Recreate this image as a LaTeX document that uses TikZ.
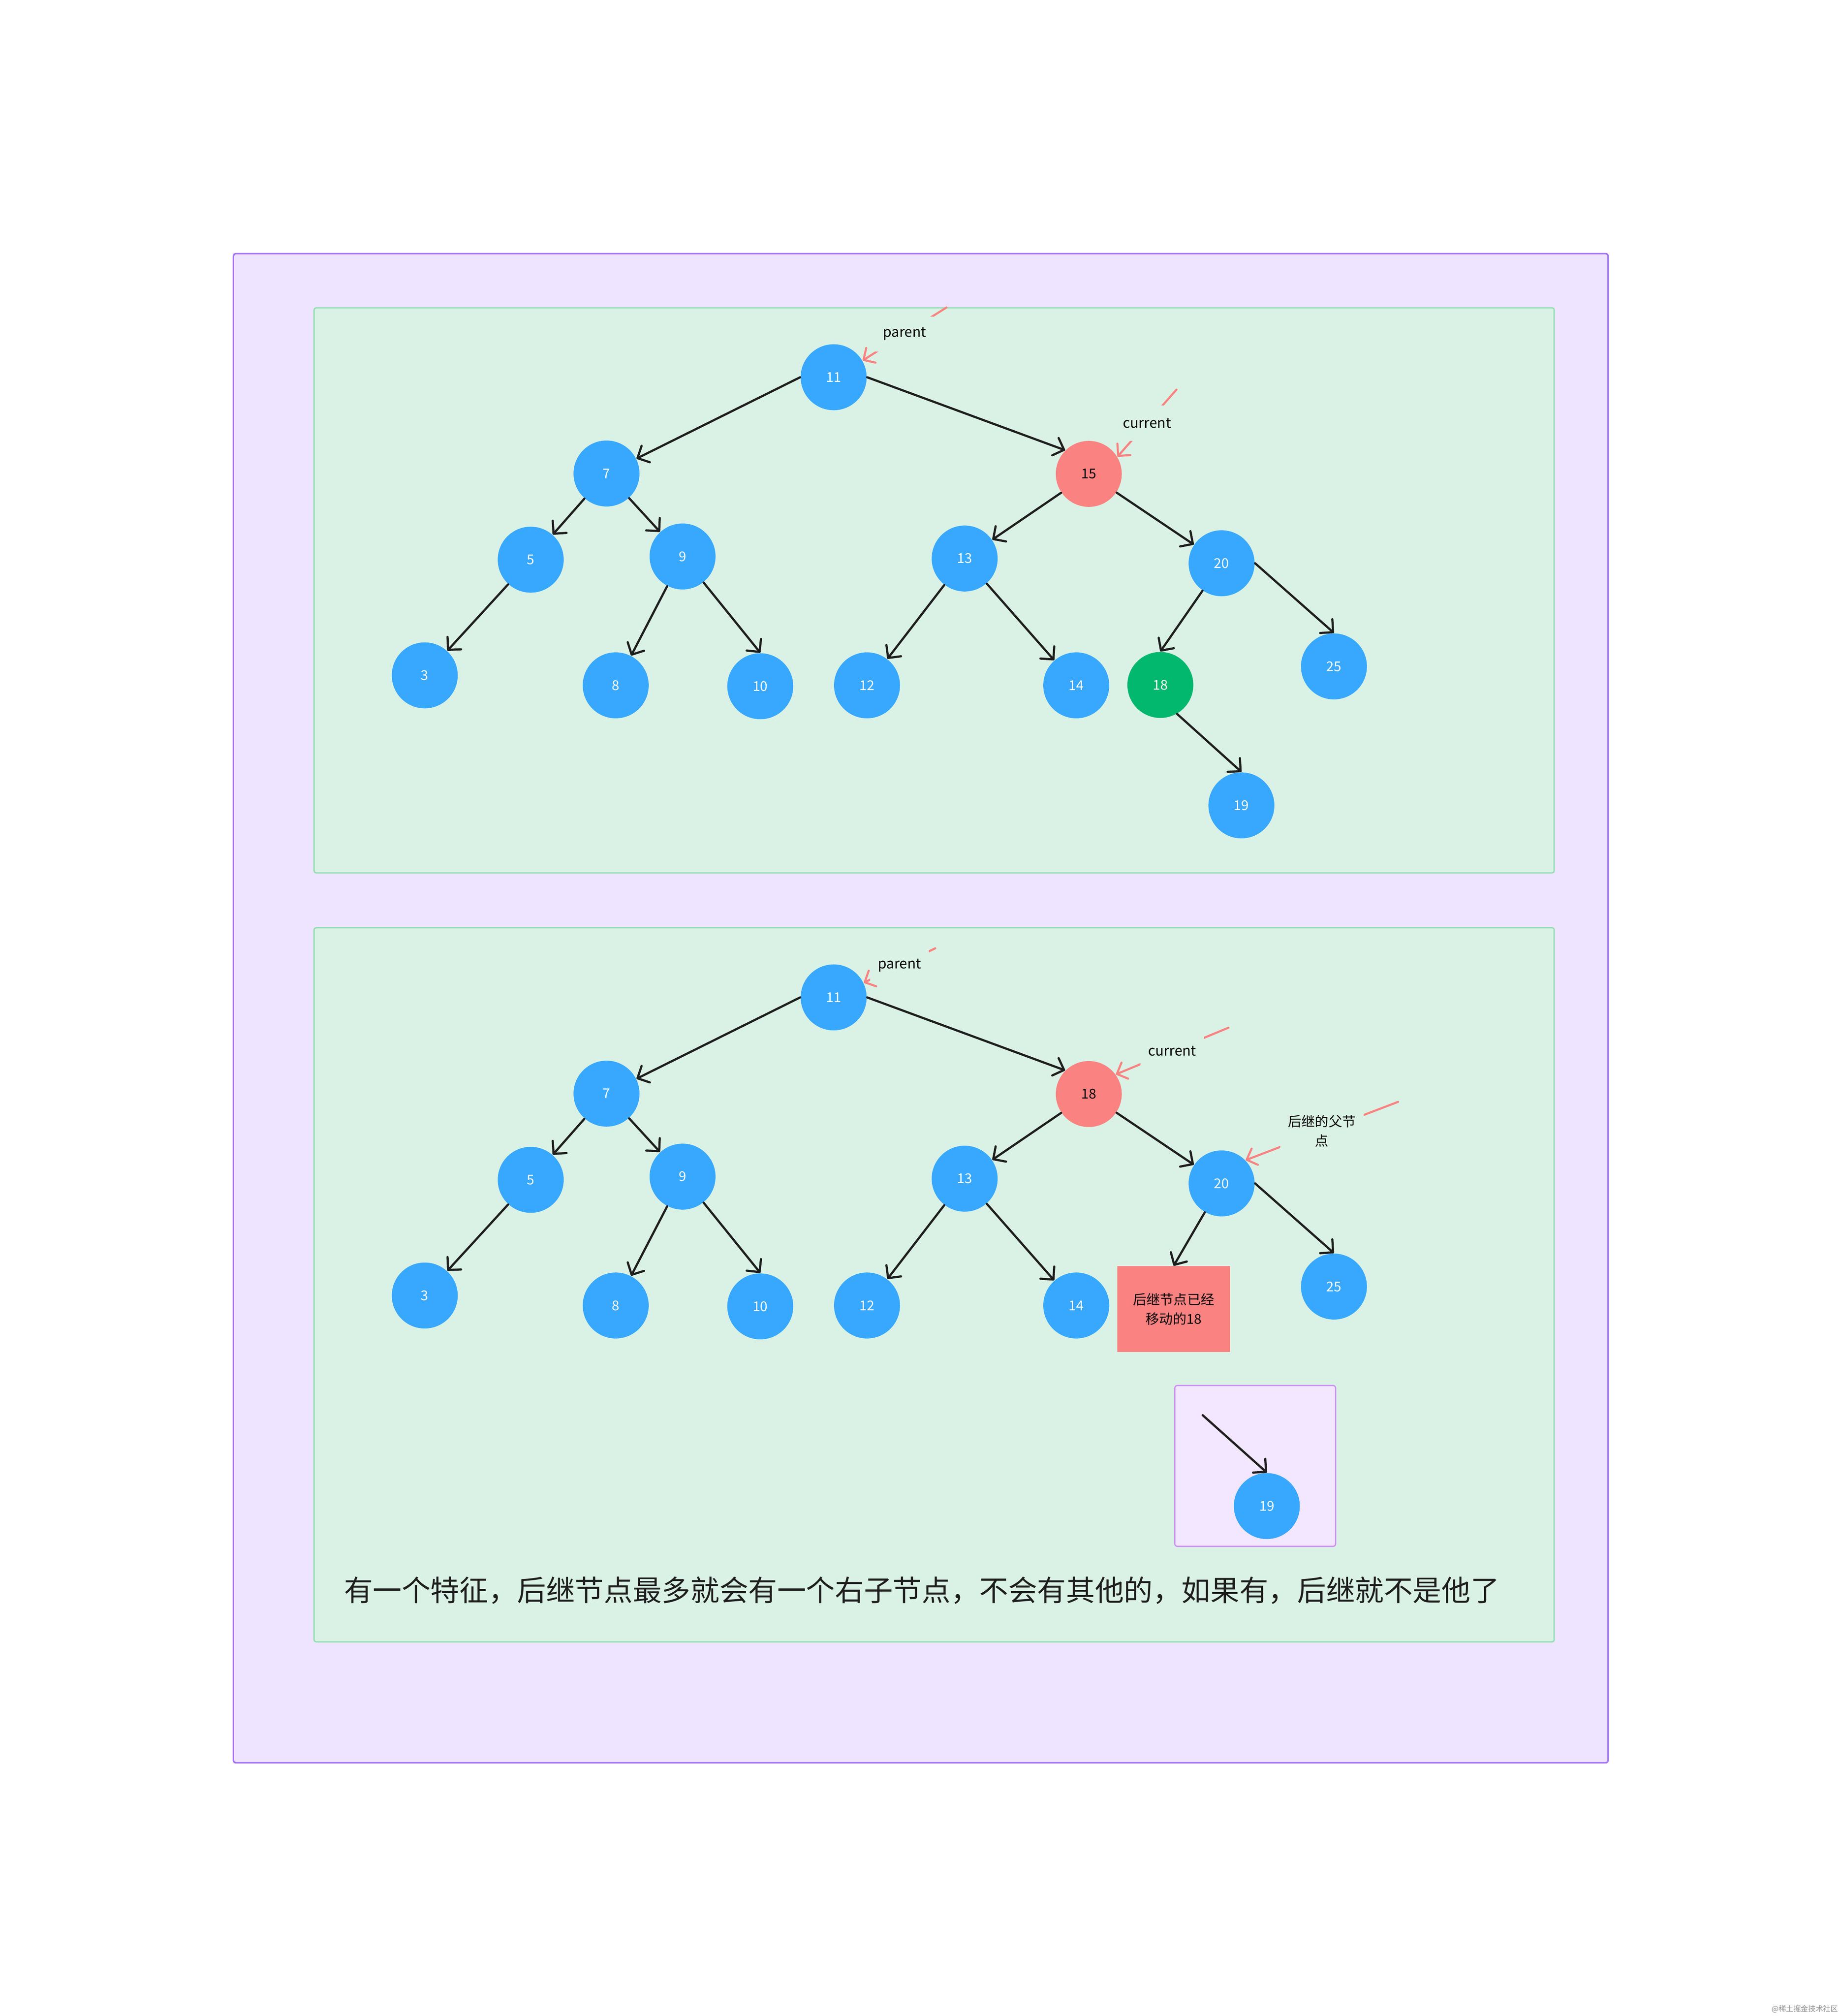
\documentclass[tikz,border=0pt]{standalone}
\usepackage{fontspec}
\newfontfamily\cjk{Noto Sans CJK SC}
\usetikzlibrary{arrows.meta, positioning}

\definecolor{frameback}{RGB}{238,228,255}
\definecolor{frameline}{RGB}{165,115,250}
\definecolor{panelback}{RGB}{218,242,229}
\definecolor{panelline}{RGB}{145,222,178}
\definecolor{boxback}{RGB}{243,230,255}
\definecolor{boxline}{RGB}{205,145,245}
\definecolor{keyblue}{RGB}{56,168,255}
\definecolor{keyred}{RGB}{250,130,128}
\definecolor{keygreen}{RGB}{2,183,110}
\definecolor{ink}{RGB}{30,30,30}

\tikzset{
  key/.style={circle, fill=keyblue, text=white, minimum size=25.8pt, inner sep=0pt, font=\cjk\fontsize{5.3}{6.5}\selectfont},
  keycur/.style={key, fill=keyred, text=black},
  keysucc/.style={key, fill=keygreen},
  link/.style={draw=ink, line width=0.85pt, line cap=round, -{Straight Barb[length=3.6pt,width=7.2pt,round]}},
  pointer/.style={draw=keyred, line width=0.8pt, line cap=round, -{Straight Barb[length=3.4pt,width=6.8pt,round]}},
  tag/.style={fill=panelback, inner xsep=3pt, inner ysep=0pt, minimum height=13.7pt, align=center, text=black, font=\cjk\fontsize{5.5}{7.6}\selectfont},
  panel/.style={draw=panelline, fill=panelback, line width=0.5pt, rounded corners=0.8pt},
  movedbox/.style={fill=keyred, minimum width=44.15pt, minimum height=33.45pt, inner sep=0pt, align=center, text=black, font=\cjk\fontsize{5.3}{7.6}\selectfont},
}

\begin{document}
\begin{tikzpicture}[x=0.5pt,y=0.5pt,yscale=-1,xscale=1]
\fill[white] (0,0) rectangle (1440,1577);
\useasboundingbox (0,0) rectangle (1440,1577);

%Shape: Rectangle [outer frame]
\draw[draw=frameline, fill=frameback, line width=0.6pt, rounded corners=1pt] (182.6,198.4) rectangle (1258.1,1378.9);
%Shape: Rectangle [upper panel]
\draw[panel] (245.7,240.8) rectangle (1215.9,682.8);
%Shape: Rectangle [lower panel]
\draw[panel] (245.7,725.7) rectangle (1215.9,1284.3);

% upper tree
\node[key] (t11) at (652.2,295.1) {11};
\node[key] (t7) at (474.5,370.4) {7};
\node[keycur] (t15) at (851.8,370.7) {15};
\node[key] (t5) at (415.2,437.8) {5};
\node[key] (t9) at (534.0,435.3) {9};
\node[key] (t13) at (754.7,436.9) {13};
\node[key] (t20) at (955.7,440.6) {20};
\node[key] (t3) at (332.3,528.3) {3};
\node[key] (t8) at (481.7,536.1) {8};
\node[key] (t10) at (594.8,536.8) {10};
\node[key] (t12) at (678.3,536.1) {12};
\node[key] (t14) at (842.0,536.1) {14};
\node[keysucc] (t18) at (907.8,535.8) {18};
\node[key] (t25) at (1043.6,521.3) {25};
\node[key] (t19) at (971.2,630.0) {19};

\draw[link] (t11.west) -- (t7);
\draw[link] (t11.east) -- (t15.north west);
\draw[link] (t7) -- (t5);
\draw[link] (t7) -- (t9);
\draw[link] (t5) -- (t3);
\draw[link] (t9) -- (t8);
\draw[link] (t9) -- (t10.north);
\draw[link] (t15) -- (t13);
\draw[link] (t15) -- (t20);
\draw[link] (t13) -- (t12);
\draw[link] (t13) -- (t14);
\draw[link] (t20) -- (t18.north);
\draw[link] (t20.east) -- (t25.north);
\draw[link] (t18.-60) -- (t19.north);

% upper pointers
\coordinate (tp) at (740.5,240.5);
\coordinate (tc) at (920.4,304.8);
\draw[pointer] (tp) -- node[tag] (tpl) {parent} (t11.30);
\draw[pointer] (tc) -- node[tag] (tcl) {current} (t15.31);

% lower tree
\node[key] (b11) at (652.2,780.2) {11};
\node[key] (b7) at (474.5,855.5) {7};
\node[keycur] (b18) at (851.8,855.8) {18};
\node[key] (b5) at (415.2,922.9) {5};
\node[key] (b9) at (534.0,920.4) {9};
\node[key] (b13) at (754.7,922.0) {13};
\node[key] (b20) at (955.7,925.7) {20};
\node[key] (b3) at (332.3,1013.4) {3};
\node[key] (b8) at (481.7,1021.2) {8};
\node[key] (b10) at (594.8,1021.9) {10};
\node[key] (b12) at (678.3,1021.2) {12};
\node[key] (b14) at (842.0,1021.2) {14};
\node[key] (b25) at (1043.6,1006.4) {25};
\node[movedbox] (moved) at (918.2,1024.0) {后继节点已经\\移动的18};

\draw[link] (b11.west) -- (b7);
\draw[link] (b11.east) -- (b18.north west);
\draw[link] (b7) -- (b5);
\draw[link] (b7) -- (b9);
\draw[link] (b5) -- (b3);
\draw[link] (b9) -- (b8);
\draw[link] (b9) -- (b10.north);
\draw[link] (b18) -- (b13);
\draw[link] (b18) -- (b20);
\draw[link] (b13) -- (b12);
\draw[link] (b13) -- (b14);
\draw[link] (b20) -- (moved.north);
\draw[link] (b20.east) -- (b25.north);

%Shape: Rectangle [detached right child]
\draw[draw=boxline, fill=boxback, line width=0.5pt, rounded corners=1pt] (919.1,1083.8) rectangle (1044.9,1209.6);
\node[key] (b19) at (991.1,1178.1) {19};
\coordinate (bs) at (940.9,1107.0);
\draw[link] (bs) -- (b19.north);

% lower pointers
\coordinate (bp) at (731.7,741.8);
\coordinate (bc) at (961.1,803.9);
\coordinate (bf) at (1093.8,861.9);
\draw[pointer] (bp) -- node[tag] (bpl) {parent} (b11.26);
\draw[pointer] (bc) -- node[tag] (bcl) {current} (b18.36);
\draw[pointer] (bf) -- node[tag, font=\cjk\fontsize{5.3}{7.6}\selectfont] (bfl) {后继的父节\\点} (b20.44);

% Text Node
\node[anchor=west, text=ink, inner sep=0pt, font=\cjk\fontsize{11.3}{13}\selectfont] (note) at (268.7,1244.0) {有一个特征，后继节点最多就会有一个右子节点，不会有其他的，如果有，后继就不是他了};

% Text Node [watermark]
\node[text=black!45, inner sep=0pt, font=\cjk\fontsize{2.9}{3.2}\selectfont] (mark) at (1412.0,1571.5) {@稀土掘金技术社区};
\end{tikzpicture}
\end{document}
